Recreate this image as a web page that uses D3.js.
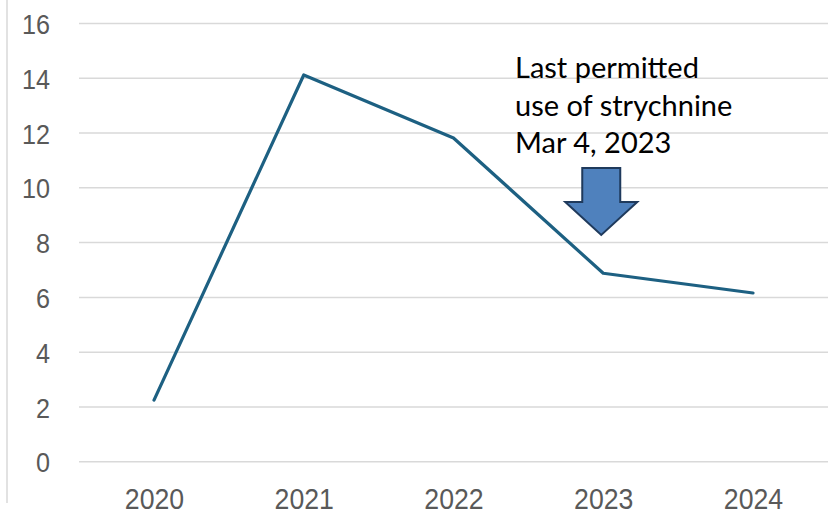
<!DOCTYPE html>
<html><head><meta charset="utf-8">
<script src="https://cdn.jsdelivr.net/npm/d3@7"></script>
<style>body{margin:0;background:#fff}svg{display:block}</style>
</head><body>
<svg id="c" width="828" height="514"></svg>
<script>
const years = ["2020","2021","2022","2023","2024"];
const values = [2.25, 14.12, 11.82, 6.88, 6.16];
const yTicks = [0,2,4,6,8,10,12,14,16];
const noteLines = ["Last permitted","use of strychnine","Mar 4, 2023"];

const svg = d3.select("#c");
const x = d3.scalePoint().domain(years).range([154, 753]);
const y = d3.scaleLinear().domain([0,16]).range([461.7, 23.5]);

// left border
svg.append("line").attr("x1",7).attr("x2",7).attr("y1",0).attr("y2",503)
  .attr("stroke","#d9d9d9").attr("stroke-width",1.5);

// gridlines
svg.append("g").selectAll("line").data(yTicks).join("line")
  .attr("x1",79).attr("x2",828).attr("y1",d=>y(d)).attr("y2",d=>y(d))
  .attr("stroke","#d9d9d9").attr("stroke-width",1.5);

// y labels
const yAxis = d3.axisLeft(y).tickValues(yTicks).tickSize(0).tickPadding(0);
const gy = svg.append("g").attr("transform","translate(50,0)").call(yAxis);
gy.select(".domain").remove();
gy.attr("font-family",null).attr("font-size",null);
gy.selectAll("text").attr("font-family","Liberation Sans, Arial, sans-serif")
  .attr("font-size",28).attr("fill","#595959").attr("dy","0.36em")
  .attr("transform","scale(0.9,1)");

// x labels
const xAxis = d3.axisBottom(x).tickSize(0).tickPadding(0);
const gx = svg.append("g").attr("transform","translate(0,509)").call(xAxis);
gx.select(".domain").remove();
gx.attr("font-family",null).attr("font-size",null);
gx.selectAll("text").attr("font-family","Liberation Sans, Arial, sans-serif")
  .attr("font-size",29).attr("fill","#595959").attr("dy",0).attr("y",0)
  .attr("transform","scale(0.92,1)");

// line
const line = d3.line().x((d,i)=>x(years[i])).y(d=>y(d));
svg.append("path").datum(values).attr("d",line).attr("fill","none")
  .attr("stroke","#1d6082").attr("stroke-width",3.2).attr("stroke-linejoin","round").attr("stroke-linecap","round");

// annotation text
const t = svg.append("text").attr("font-family","Lato, 'Open Sans', sans-serif")
  .attr("font-size",29).attr("fill","#000");
noteLines.forEach((s,i)=>{
  t.append("tspan").attr("x",515).attr("y",78+i*37.5).text(s);
});

// arrow
const ax = x("2023");
const arrowPts = [[-19,168],[19,168],[19,202],[36,202],[0,235],[-36,202],[-19,202]]
  .map(p=>[ax-2+p[0],p[1]]);
svg.append("path").attr("d","M"+arrowPts.map(p=>p.join(",")).join("L")+"Z")
  .attr("fill","#4f81bd").attr("stroke","#1f3a5c").attr("stroke-width",2).attr("stroke-linejoin","miter");
</script>
</body></html>
